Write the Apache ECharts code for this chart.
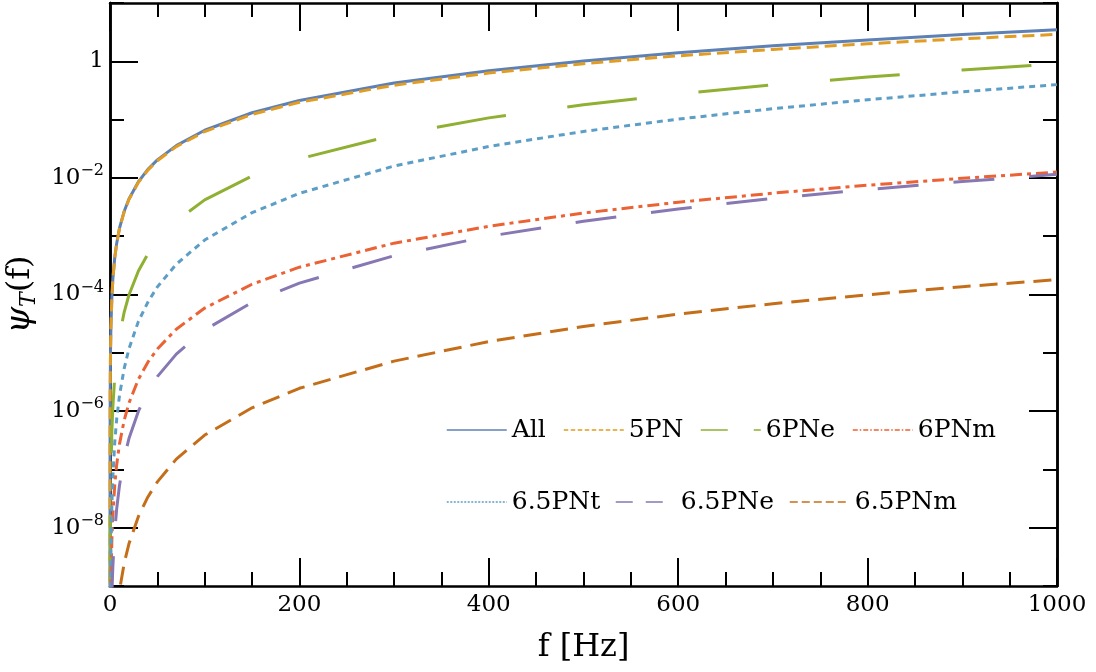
<!DOCTYPE html>
<html><head><meta charset="utf-8">
<script src="https://cdn.jsdelivr.net/npm/echarts@6/dist/echarts.min.js"></script>
<style>html,body{margin:0;padding:0;background:#fff}#c{width:1096px;height:672px}</style>
</head><body><div id="c"></div>
<script>
// ---- data ----
const freq = [0.001, 0.01, 0.05, 0.2, 0.5, 1, 2, 3, 5, 7, 10, 15, 20, 30, 40, 50, 70, 100, 150, 200, 300, 400, 500, 600, 700, 800, 900, 1000];
const psiAll = [2.9e-10, 1.35e-8, 1.97e-7, 1.98e-6, 9.1e-6, 2.9e-5, 9.2e-5, 1.82e-4, 4.27e-4, 7.45e-4, 1.37e-3, 2.68e-3, 4.34e-3, 8.6e-3, 1.40e-2, 2.04e-2, 3.58e-2, 6.57e-2, 0.131, 0.213, 0.423, 0.69, 1.01, 1.40, 1.84, 2.33, 2.87, 3.48];
const psi5PN = [2.9e-10, 1.35e-8, 1.97e-7, 1.98e-6, 9.1e-6, 2.9e-5, 9.2e-5, 1.81e-4, 4.24e-4, 7.4e-4, 1.35e-3, 2.64e-3, 4.27e-3, 8.4e-3, 1.36e-2, 1.97e-2, 3.44e-2, 6.24e-2, 0.123, 0.198, 0.389, 0.630, 0.912, 1.24, 1.60, 2.00, 2.43, 2.90];
const psi6PNe = [null, 1.9e-12, 8.4e-11, 2.1e-9, 1.8e-8, 9.06e-8, 4.56e-7, 1.17e-6, 3.87e-6, 8.5e-6, 1.95e-5, 5.0e-5, 9.8e-5, 2.53e-4, 4.95e-4, 8.3e-4, 1.83e-3, 4.2e-3, 1.08e-2, 2.12e-2, 5.46e-2, 0.107, 0.180, 0.275, 0.394, 0.538, 0.708, 0.905];
const psi6PNm = [null, null, 1.2e-12, 2.9e-11, 2.5e-10, 1.26e-9, 6.3e-9, 1.63e-8, 5.4e-8, 1.18e-7, 2.71e-7, 6.98e-7, 1.37e-6, 3.52e-6, 6.9e-6, 1.16e-5, 2.54e-5, 5.85e-5, 1.50e-4, 2.94e-4, 7.6e-4, 1.48e-3, 2.50e-3, 3.82e-3, 5.47e-3, 7.48e-3, 9.84e-3, 1.26e-2];
const psi65PNt = [null, null, 1.35e-12, 5.4e-11, 6.3e-10, 4.0e-9, 2.52e-8, 7.4e-8, 2.91e-7, 7.1e-7, 1.85e-6, 5.4e-6, 1.17e-5, 3.46e-5, 7.4e-5, 1.35e-4, 3.31e-4, 8.6e-4, 2.53e-3, 5.44e-3, 1.60e-2, 3.46e-2, 6.27e-2, 0.102, 0.154, 0.219, 0.300, 0.398];
const psi65PNe = [null, null, null, 1.6e-12, 1.8e-11, 1.15e-10, 7.3e-10, 2.15e-9, 8.4e-9, 2.06e-8, 5.3e-8, 1.57e-7, 3.38e-7, 9.98e-7, 2.15e-6, 3.9e-6, 9.5e-6, 2.47e-5, 7.3e-5, 1.57e-4, 4.62e-4, 9.98e-4, 1.81e-3, 2.94e-3, 4.44e-3, 6.32e-3, 8.65e-3, 1.15e-2];
const psi65PNm = [null, null, null, null, null, 1.8e-12, 1.15e-11, 3.4e-11, 1.3e-10, 3.2e-10, 8.4e-10, 2.46e-9, 5.3e-9, 1.56e-8, 3.37e-8, 6.1e-8, 1.50e-7, 3.88e-7, 1.14e-6, 2.46e-6, 7.2e-6, 1.56e-5, 2.83e-5, 4.6e-5, 6.95e-5, 9.9e-5, 1.36e-4, 1.80e-4];
const seriesNames = ['All', '5PN', '6PNe', '6PNm', '6.5PNt', '6.5PNe', '6.5PNm'];
const seriesValues = [psiAll, psi5PN, psi6PNe, psi6PNm, psi65PNt, psi65PNe, psi65PNm];
// labelled (long-tick) values on the psi axis
const yLabelValues = [1e-8, 1e-6, 1e-4, 1e-2, 1];
const xTitle = 'f [Hz]';

// ---- styles ----
const FONT = 'DejaVu Serif';
const colors = ['#5E81B5', '#E19C24', '#8FB032', '#EB6235', '#5D9EC7', '#8778B3', '#C56E1A'];
const dashes = ['solid', [12, 6], [70, 62], [12, 5, 4, 5], [6, 5], [41, 35], [18, 9]];
const dashOffsets = [0, 0, -28, 0, 0, 0, 0];
const legendDashes = ['solid', [4.5, 2.5], [27, 26], [5, 2, 1.5, 2], [2, 1.5], [17, 13], [8, 4]];
const legendPos = [[446, 415], [563, 415], [700, 415], [852, 415], [446, 487], [615, 487], [789, 487]];

const G = {left: 110, right: 39, top: 3, bottom: 86};

const chart = echarts.init(document.getElementById('c'), null, {renderer: 'canvas'});
const axisLineStyle = {color: '#000', width: 2.5};
const tickStyle = {color: '#000', width: 2};

const series = seriesNames.map((n, i) => ({
  name: n, type: 'line', xAxisIndex: 0, yAxisIndex: 0,
  symbol: 'none', showSymbol: false, smooth: false, clip: true,
  data: freq.map((f, k) => [f, seriesValues[i][k]]),
  lineStyle: {color: colors[i], width: 3, type: dashes[i], dashOffset: dashOffsets[i]},
  itemStyle: {color: colors[i]},
  z: 2 + i
}));

const legends = seriesNames.map((n, i) => ({
  data: [n], left: legendPos[i][0], top: legendPos[i][1], padding: 0,
  itemWidth: 60, itemHeight: 14, selectedMode: false,
  textStyle: {fontFamily: FONT, fontSize: 25, color: '#000', lineHeight: 30},
  itemStyle: {opacity: 0, color: 'rgba(0,0,0,0)', borderWidth: 0},
  lineStyle: {width: 1.5, type: legendDashes[i], dashOffset: 0, color: colors[i], opacity: 1}
}));

const yFmt = v => {
  const e = Math.round(Math.log10(v));
  return e === 0 ? '{b|1}' : '{b|10}{s|\u2212' + (-e) + '}';
};

const logBase = {type: 'log', logBase: 10, min: 1e-9, max: 10, gridIndex: 0, splitLine: {show: false}};

chart.setOption({
  animation: false,
  backgroundColor: '#fff',
  grid: [{left: G.left, right: G.right, top: G.top, bottom: G.bottom, containLabel: false, outerBoundsMode: 'none'}],
  legend: legends,
  xAxis: [
    {gridIndex: 0, type: 'value', min: 0, max: 1000, interval: 200, position: 'bottom',
     name: xTitle, nameLocation: 'middle', nameGap: 46,
     nameTextStyle: {fontFamily: FONT, fontSize: 32, color: '#000'},
     axisLine: {show: true, lineStyle: axisLineStyle},
     axisTick: {show: true, inside: true, length: 28, lineStyle: tickStyle},
     minorTick: {show: true, splitNumber: 4, length: 14, lineStyle: tickStyle},
     axisLabel: {fontFamily: FONT, fontSize: 23, color: '#000', margin: 8, formatter: v => String(v)},
     splitLine: {show: false}},
    {gridIndex: 0, type: 'value', min: 0, max: 1000, interval: 200, position: 'top',
     axisLine: {show: true, lineStyle: axisLineStyle},
     axisTick: {show: true, inside: true, length: 28, lineStyle: tickStyle},
     minorTick: {show: true, splitNumber: 4, length: 14, lineStyle: tickStyle},
     axisLabel: {show: false}, splitLine: {show: false}}
  ],
  yAxis: [
    Object.assign({}, logBase, {position: 'left', interval: 1,
     name: '{p|\u03C8}{t|T}{f|(f)}', nameLocation: 'middle', nameGap: 64,
     nameTextStyle: {color: '#000', rich: {
       p: {fontFamily: FONT, fontStyle: 'italic', fontSize: 34, lineHeight: 40},
       t: {fontFamily: FONT, fontStyle: 'italic', fontSize: 22, lineHeight: 22, verticalAlign: 'bottom'},
       f: {fontFamily: FONT, fontSize: 32, lineHeight: 40}}},
     axisLine: {show: true, lineStyle: axisLineStyle},
     axisTick: {show: true, inside: true, length: 28, customValues: yLabelValues, lineStyle: tickStyle},
     axisLabel: {show: true, margin: 6, customValues: yLabelValues, formatter: yFmt, color: '#000',
       rich: {b: {fontFamily: FONT, fontSize: 23, lineHeight: 30, color: '#000'},
              s: {fontFamily: FONT, fontSize: 16, lineHeight: 16, verticalAlign: 'top', color: '#000'}}}}),
    Object.assign({}, logBase, {position: 'left', interval: 1,
     axisLine: {show: true, lineStyle: axisLineStyle},
     axisTick: {show: true, inside: true, length: 14, lineStyle: tickStyle},
     axisLabel: {show: false}}),
    Object.assign({}, logBase, {position: 'right', interval: 1,
     axisLine: {show: true, lineStyle: axisLineStyle},
     axisTick: {show: true, inside: true, length: 28, customValues: yLabelValues, lineStyle: tickStyle},
     axisLabel: {show: false}}),
    Object.assign({}, logBase, {position: 'right', interval: 1,
     axisLine: {show: true, lineStyle: axisLineStyle},
     axisTick: {show: true, inside: true, length: 14, lineStyle: tickStyle},
     axisLabel: {show: false}})
  ],
  series: series
});
</script></body></html>
